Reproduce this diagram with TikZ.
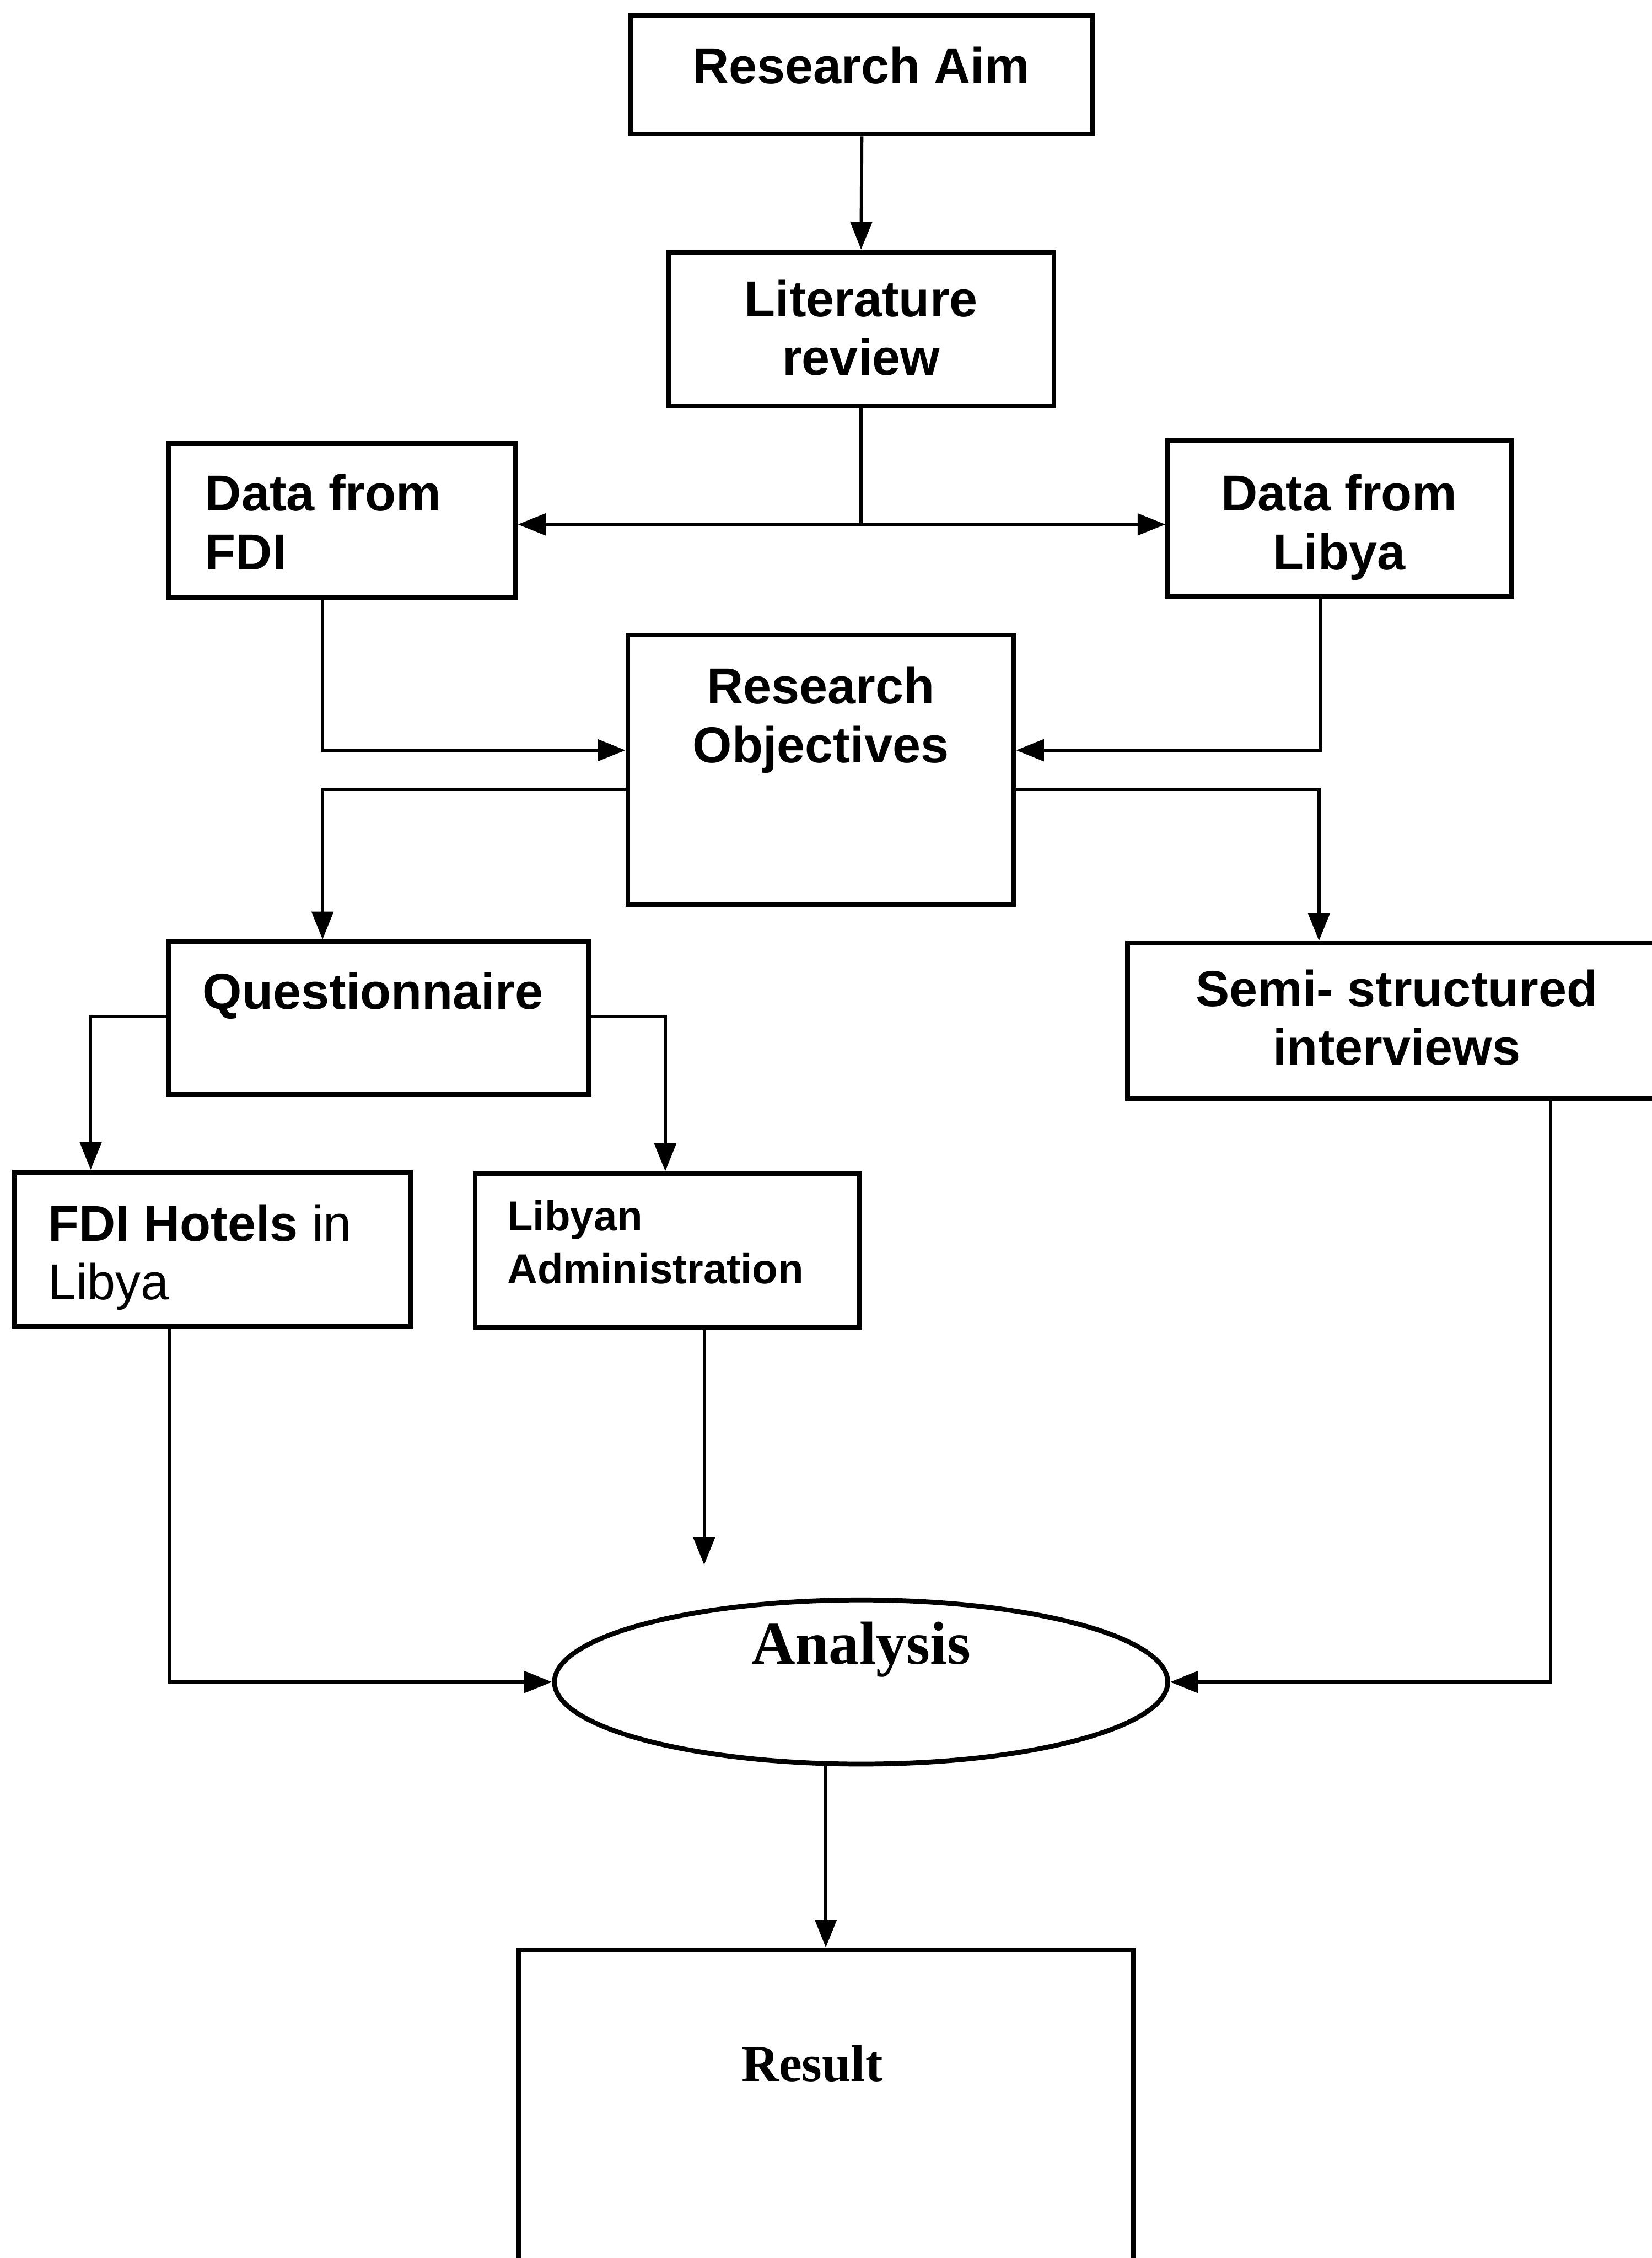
\documentclass[tikz,border=0pt]{standalone}
\usepackage{fontspec}
\setmainfont{Liberation Sans}
\newfontfamily\timesface{Liberation Serif}
\usetikzlibrary{arrows.meta,shapes.geometric,calc}

\begin{document}
\begin{tikzpicture}[x=0.02cm,y=-0.02cm,
  box/.style={draw, line width=1.9pt, rectangle, inner sep=0pt},
  conn/.style={line width=1.25pt},
  arr/.style={conn, -{Triangle[length=11pt,width=8.5pt]}},
  big/.style={font=\bfseries\fontsize{20}{23.2}\selectfont, inner sep=0pt},
  ctext/.style={big, align=center, anchor=north},
  ltext/.style={big, align=left, anchor=north west},
  serifl/.style={inner sep=0pt, anchor=north},
]
\useasboundingbox (0,0) rectangle (1147,1568);

% boxes
\node[box, minimum width=6.42cm, minimum height=1.64cm] (aim)    at (598.5,52)   {};
\node[box, minimum width=5.36cm, minimum height=2.14cm] (lit)    at (598,228.5)  {};
\node[box, minimum width=4.82cm, minimum height=2.14cm] (fdi)    at (237.5,361.5){};
\node[box, minimum width=4.78cm, minimum height=2.16cm] (libya)  at (930.5,360)  {};
\node[box, minimum width=5.36cm, minimum height=3.74cm] (obj)    at (570,534.5)  {};
\node[box, minimum width=5.84cm, minimum height=2.12cm] (quest)  at (263,707)    {};
\node[box, minimum width=7.54cm, minimum height=2.16cm] (semi)   at (971.5,709)  {};
\node[box, minimum width=5.50cm, minimum height=2.14cm] (hotels) at (147.5,867.5){};
\node[box, minimum width=5.34cm, minimum height=2.14cm] (admin)  at (463.5,868.5){};
\node[draw, line width=1.9pt, ellipse, inner sep=0pt,
      minimum width=8.52cm, minimum height=2.28cm]      (ana)    at (598,1168)   {};
\node[box, minimum width=8.54cm, minimum height=4.92cm] (result) at (573.5,1477) {};

% texts
\node[ctext] (taim)   at (598,32)  {Research Aim};
\node[ctext] (tlit)   at (598,194) {Literature\\review};
\node[ltext] (tfdi)   at (142,329) {Data from\\FDI};
\node[ctext] (tlib)   at (930,329) {Data from\\Libya};
\node[ctext] (tobj)   at (570,463) {Research\\Objectives};
\node[ctext] (tquest) at (259,675) {Questionnaire};
\node[ctext] (tsemi)  at (970,673) {Semi- structured\\interviews};
\node[ltext] (thot)   at (33,836)  {FDI Hotels \mdseries in\\\mdseries Libya};
\node[inner sep=0pt, align=left, anchor=north west,
      font=\bfseries\fontsize{16.6}{21}\selectfont] (tadm) at (352,833) {Libyan\\Administration};
\node[serifl, font=\timesface\bfseries\fontsize{24}{28}\selectfont] (tana) at (598,1126) {Analysis};
\node[serifl, font=\timesface\bfseries\fontsize{20.5}{24}\selectfont] (tres) at (564,1420) {Result};

% connectors
\draw[arr] (aim.south) -- (lit.north);
\coordinate (split) at ($(lit.south)+(0,80.5)$);
\draw[conn] (lit.south) -- (split);
\draw[arr] (split) -- (split -| fdi.east);
\draw[arr] (split) -- (split -| libya.west);

\draw[arr] ($(fdi.south)+(-13.5,0)$) |- ($(obj.west)+(0,-13.5)$);
\draw[arr] ($(libya.south)+(-13.5,0)$) |- ($(obj.east)+(0,-13.5)$);

\draw[arr] ($(obj.west)+(0,13.5)$) -| ($(quest.north)+(-39,0)$);
\draw[arr] ($(obj.east)+(0,13.5)$) -| ($(semi.north)+(-55.5,0)$);

\draw[arr] ($(quest.west)+(0,-1)$) -| ($(hotels.north)+(-84.5,0)$);
\draw[arr] ($(quest.east)+(0,-1)$) -| ($(admin.north)+(-1.5,0)$);

\draw[arr] ($(hotels.south)+(-29.5,0)$) |- (ana.west);
\coordinate (admend) at ($(admin.south)+(25.5,163)$);
\draw[arr] ($(admin.south)+(25.5,0)$) -- (admend);
\draw[arr] ($(semi.south)+(105.5,0)$) |- (ana.east);

\draw[arr] (ana.south -| result.north) -- (result.north);
\end{tikzpicture}
\end{document}
